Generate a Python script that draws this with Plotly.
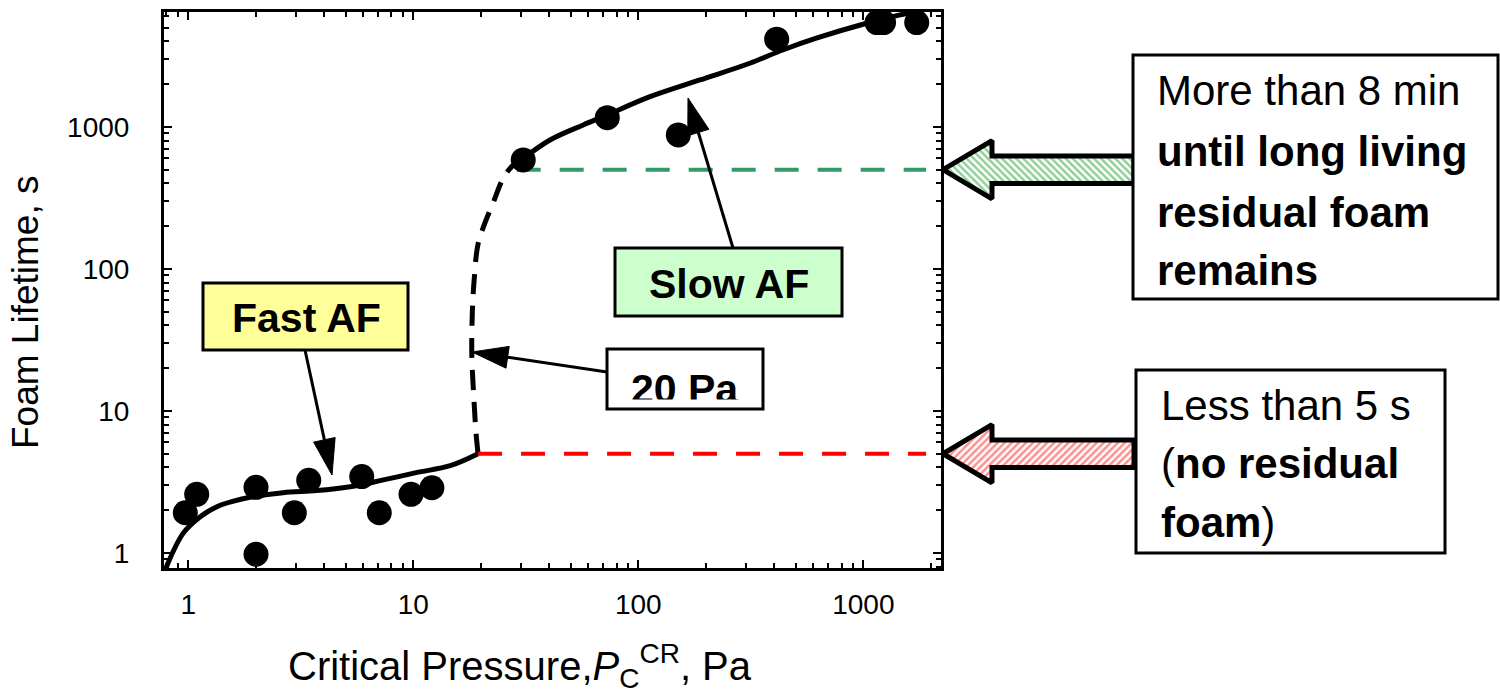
import numpy as np
import plotly.graph_objects as go

W, H = 1500, 697

# ---------------- data ----------------
pts_x = [0.97, 1.09, 2.0, 2.0, 2.96, 3.43, 5.9, 7.06, 9.77, 12.1, 30.8, 72.8, 150.6, 412, 1150, 1230, 1727]
pts_y = [1.92, 2.59, 0.98, 2.9, 1.92, 3.25, 3.45, 1.92, 2.59, 2.88, 586, 1163, 879, 4150, 5430, 5430, 5430]

fast_x = [0.80, 0.95, 1.13, 1.34, 1.59, 1.88, 2.64, 3.72, 5.24, 7.36, 10.3, 14.6, 19.4]
fast_y = [0.80, 1.38, 1.80, 2.12, 2.32, 2.47, 2.66, 2.75, 2.93, 3.27, 3.68, 4.12, 5.0]

trans_x = [19.4, 19.0, 18.6, 18.2, 18.3, 18.6, 19.4, 20.8, 22.6, 25.0, 27.5, 30.8]
trans_y = [5.0, 7.0, 12, 25, 50, 80, 150, 210, 290, 430, 530, 600]

slow_x = [30.8, 40.5, 56.9, 72.8, 112.7, 187.7, 313, 438, 618, 1034, 1455, 1904, 2214]
slow_y = [600, 809, 1033, 1216, 1634, 2143, 2810, 3483, 4217, 5372, 6150, 6835, 7300]

green_level = 500
red_level = 5
green_x = [28.8, 1900]
red_x = [19.4, 1900]

x_range = [0.78, 2214]
y_range = [0.784, 6450]
x_ticks = [1, 10, 100, 1000]
y_ticks = [1, 10, 100, 1000]

FONT = "Liberation Sans, Arial, sans-serif"


def P(x, y):
    return x / W, 1 - y / H


fig = go.Figure()

# curves
fig.add_trace(go.Scatter(x=fast_x, y=fast_y, mode="lines",
                         line=dict(color="black", width=5, shape="spline"), showlegend=False))
fig.add_trace(go.Scatter(x=trans_x, y=trans_y, mode="lines",
                         line=dict(color="black", width=5, shape="spline", dash="20px,12px"), showlegend=False))
fig.add_trace(go.Scatter(x=slow_x, y=slow_y, mode="lines",
                         line=dict(color="black", width=5, shape="spline"), showlegend=False))
# threshold lines
fig.add_trace(go.Scatter(x=green_x, y=[green_level] * 2, mode="lines",
                         line=dict(color="#339966", width=4, dash="24px,19px"), showlegend=False))
fig.add_trace(go.Scatter(x=red_x, y=[red_level] * 2, mode="lines",
                         line=dict(color="#ff0000", width=4, dash="24px,19px"), showlegend=False))
# points
fig.add_trace(go.Scatter(x=pts_x, y=pts_y, mode="markers",
                         marker=dict(color="black", size=25), showlegend=False, cliponaxis=False))


# hatched block arrows (x in pixel units on hidden axis x2, y in data units)
def block_arrow(yc, tip=943, head_base=992, tail=1134, head=0.205, shaft=0.097):
    hu, hd = yc * 10 ** head, yc / 10 ** head
    su, sd = yc * 10 ** shaft, yc / 10 ** shaft
    xs = [tip, head_base, head_base, tail, tail, head_base, head_base, tip]
    ys = [yc, hu, su, su, sd, sd, hd, yc]
    return xs, ys


for lvl, col, shp in [(green_level, "#22a030", "\\"), (red_level, "#ff2020", "/")]:
    ax_, ay_ = block_arrow(lvl)
    fig.add_trace(go.Scatter(x=ax_, y=ay_, xaxis="x2", yaxis="y", mode="lines", fill="toself",
                             fillcolor="white",
                             fillpattern=dict(shape=shp, fgcolor=col, bgcolor="white", size=5, solidity=0.5),
                             line=dict(color="black", width=5), showlegend=False, hoverinfo="skip"))

minor_vals = [m * 10 ** e for e in range(-1, 4) for m in range(2, 10)]

axis_common = dict(type="log", showline=True, linewidth=3, linecolor="black", mirror="ticks",
                   ticks="inside", ticklen=8, tickwidth=2, tickcolor="black",
                   showgrid=False, zeroline=False,
                   tickfont=dict(family=FONT, size=28, color="black"),
                   minor=dict(tickvals=minor_vals, ticks="inside", ticklen=5, tickwidth=2,
                              tickcolor="black", showgrid=False))

fig.update_layout(
    width=W, height=H,
    margin=dict(l=0, r=0, t=0, b=0),
    paper_bgcolor="white", plot_bgcolor="rgba(0,0,0,0)",
    xaxis=dict(range=[np.log10(x_range[0]), np.log10(x_range[1])], domain=[164 / W, 941 / W],
               tickvals=x_ticks, ticktext=[str(v) for v in x_ticks], anchor="y",
               ticklabelstandoff=9, **axis_common),
    yaxis=dict(range=[np.log10(y_range[0]), np.log10(y_range[1])], domain=[1 - 568 / H, 1 - 12 / H],
               tickvals=y_ticks, ticktext=[str(v) for v in y_ticks], anchor="x",
               ticklabelstandoff=26, **axis_common),
    xaxis2=dict(domain=[0, 1], range=[0, W], visible=False, anchor="y", fixedrange=True),
)

shapes = []
annotations = []


def rect(x0, y0, x1, y1, fill, lw=3):
    a, b = P(x0, y0)
    c, d = P(x1, y1)
    shapes.append(dict(type="rect", xref="paper", yref="paper", x0=a, y0=b, x1=c, y1=d,
                       fillcolor=fill, line=dict(color="black", width=lw), layer="above"))


def arrow(tail, tip, head_len=36, hw=11, lw=3):
    t = np.array(tail, float)
    h = np.array(tip, float)
    d = (h - t) / np.linalg.norm(h - t)
    n = np.array([-d[1], d[0]])
    base = h - d * head_len
    a, b = P(*t)
    c, e = P(*base)
    shapes.append(dict(type="line", xref="paper", yref="paper", x0=a, y0=b, x1=c, y1=e,
                       line=dict(color="black", width=lw), layer="above"))
    pts = [h, base + n * hw, base - n * hw]
    pp = [P(*p) for p in pts]
    path = "M{},{} L{},{} L{},{} Z".format(pp[0][0], pp[0][1], pp[1][0], pp[1][1], pp[2][0], pp[2][1])
    shapes.append(dict(type="path", xref="paper", yref="paper", path=path,
                       fillcolor="black", line=dict(color="black", width=1), layer="above"))


def text(x, y, s, size=41, xanchor="center", angle=0):
    a, b = P(x, y)
    annotations.append(dict(xref="paper", yref="paper", x=a, y=b, text=s, showarrow=False,
                            xanchor=xanchor, yanchor="middle", textangle=angle,
                            font=dict(family=FONT, size=size, color="black")))


# label boxes
rect(203, 283, 408, 350, "#ffff99")
text(306, 318, "<b>Fast AF</b>")
rect(615, 248, 842, 316, "#ccffcc")
text(729, 284, "<b>Slow AF</b>")
rect(607, 349, 763, 409, "white")
text(685, 389, "<b>20 Pa</b>")
# the reference clips the bottom of the "20 Pa" glyphs at the box edge
a_, b_ = P(685, 403)
annotations.append(dict(xref="paper", yref="paper", x=a_, y=b_, text=" ", showarrow=False,
                        xanchor="center", yanchor="middle", width=146, height=6, borderpad=0,
                        bgcolor="white", font=dict(family=FONT, size=4)))

# arrows
arrow((305, 350), (332, 475))
arrow((733, 248), (688, 98))
arrow((607, 372), (472, 352))

# right boxes
rect(1133, 55, 1498, 299, "white")
text(1155, 90, "More than 8 min", size=42, xanchor="left")
text(1155, 152, "<b>until long living</b>", size=42, xanchor="left")
text(1155, 212, "<b>residual foam</b>", size=42, xanchor="left")
text(1155, 270, "<b>remains</b>", size=42, xanchor="left")

rect(1136, 370, 1445, 553, "white")
text(1159, 405, "Less than 5 s", size=42, xanchor="left")
text(1159, 463, "(<b>no residual</b>", size=42, xanchor="left")
text(1159, 522, "<b>foam</b>)", size=42, xanchor="left")

# axis titles
text(520, 666, "Critical Pressure,<i>P</i><sub>C</sub><sup>CR</sup>, Pa", size=40)
text(25, 313, "Foam Lifetime, s", size=37, angle=-90)

fig.update_layout(shapes=shapes, annotations=annotations)
fig.write_html("out.html")
